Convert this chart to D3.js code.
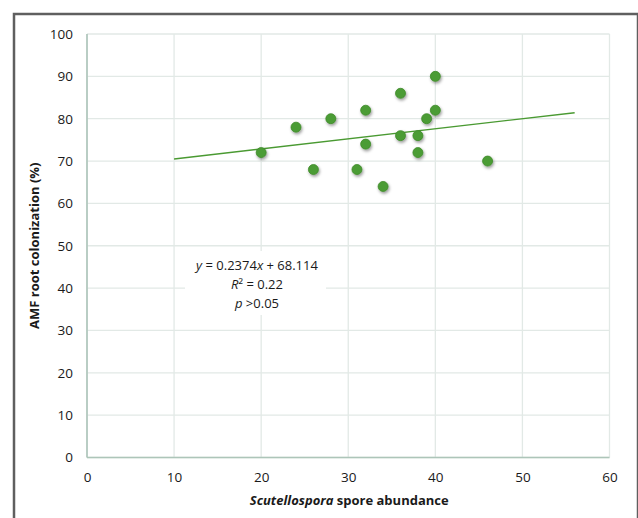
<!DOCTYPE html>
<html>
<head>
<meta charset="utf-8">
<script src="https://cdn.jsdelivr.net/npm/d3@7"></script>
<style>
  body { margin: 0; background: #ffffff; }
  text { font-family: "Open Sans", Lato, sans-serif; fill: #1a1a1a; }
  .grid line { stroke: #e2e9e6; stroke-width: 1.3; }
  .axis path, .axis line { display: none; }
  .axis text { font-size: 13.5px; }
  .axis-title { font-size: 13px; font-weight: bold; }
  .note { font-size: 13px; }
</style>
</head>
<body>
<div id="chart"></div>
<script>
// data
var spores = [20, 24, 26, 28, 31, 32, 32, 34, 36, 36, 38, 38, 39, 40, 40, 46];
var colonization = [72, 78, 68, 80, 68, 82, 74, 64, 86, 76, 76, 72, 80, 90, 82, 70];
var xTicks = [0, 10, 20, 30, 40, 50, 60];
var yTicks = [0, 10, 20, 30, 40, 50, 60, 70, 80, 90, 100];
var trendSlope = 0.2374, trendIntercept = 68.114;
var trendRange = [10, 56];

//globals
var width = 638, height = 518, svg, x, y;

function init() {

    svg = d3.select("#chart").append("svg")
        .attr("width", width)
        .attr("height", height);

    x = d3.scaleLinear().domain([0, 60]).range([87, 609.5]);
    y = d3.scaleLinear().domain([0, 100]).range([457.5, 34]);

    // outer frame
    svg.append("rect")
        .attr("x", 14).attr("y", 14)
        .attr("width", 624).attr("height", 520)
        .attr("fill", "none")
        .attr("stroke", "#5f5f5f")
        .attr("stroke-width", 2.5);

    drawGrid();
    drawAxes();
    drawTrend();
    drawPoints();
    drawNote();
}

function drawGrid() {

    var grid = svg.append("g").attr("class", "grid");

    grid.selectAll(".h").data(yTicks).enter().append("line")
        .attr("x1", x(0)).attr("x2", x(60))
        .attr("y1", function (d) { return y(d); })
        .attr("y2", function (d) { return y(d); });

    grid.selectAll(".v").data(xTicks).enter().append("line")
        .attr("y1", y(0)).attr("y2", y(100))
        .attr("x1", function (d) { return x(d); })
        .attr("x2", function (d) { return x(d); });

    // the two axis lines are darker, greenish grey
    svg.append("line")
        .attr("x1", x(0)).attr("x2", x(0))
        .attr("y1", y(0)).attr("y2", y(100))
        .attr("stroke", "#adc5b9").attr("stroke-width", 1.6);
    svg.append("line")
        .attr("x1", x(0)).attr("x2", x(60))
        .attr("y1", y(0)).attr("y2", y(0))
        .attr("stroke", "#adc5b9").attr("stroke-width", 1.6);
}

function drawAxes() {

    svg.append("g")
        .attr("class", "axis")
        .attr("transform", "translate(0," + (y(0) + 7) + ")")
        .call(d3.axisBottom(x).tickValues(xTicks).tickSize(0).tickPadding(8));

    svg.append("g")
        .attr("class", "axis")
        .attr("transform", "translate(" + (x(0) - 14) + ",0)")
        .call(d3.axisLeft(y).tickValues(yTicks).tickSize(0).tickPadding(0));

    // y title
    svg.append("text")
        .attr("class", "axis-title")
        .attr("transform", "translate(39," + y(50) + ") rotate(-90)")
        .attr("text-anchor", "middle")
        .text("AMF root colonization (%)");

    // x title, genus in italics
    var xt = svg.append("text")
        .attr("class", "axis-title")
        .attr("x", x(30) + 1)
        .attr("y", 505)
        .attr("text-anchor", "middle");
    xt.append("tspan").attr("font-style", "italic").text("Scutellospora");
    xt.append("tspan").text(" spore abundance");
}

function drawTrend() {

    var line = d3.line()
        .x(function (d) { return x(d); })
        .y(function (d) { return y(trendSlope * d + trendIntercept); });

    svg.append("path")
        .datum(trendRange)
        .attr("d", line)
        .attr("fill", "none")
        .attr("stroke", "#4a9a32")
        .attr("stroke-width", 1.3);
}

function drawPoints() {

    // soft drop shadow like the spreadsheet markers
    var f = svg.append("defs").append("filter")
        .attr("id", "shadow")
        .attr("x", "-50%").attr("y", "-50%")
        .attr("width", "200%").attr("height", "200%");
    f.append("feDropShadow")
        .attr("dx", 1).attr("dy", 1.8)
        .attr("stdDeviation", 1.4)
        .attr("flood-color", "#000")
        .attr("flood-opacity", 0.4);

    svg.append("g").selectAll("circle")
        .data(spores)
        .enter().append("circle")
        .attr("cx", function (d) { return x(d); })
        .attr("cy", function (d, i) { return y(colonization[i]); })
        .attr("r", 5)
        .attr("fill", "#4b9c34")
        .attr("stroke", "#3f8a2a")
        .attr("stroke-width", 0.8)
        .attr("filter", "url(#shadow)");
}

function drawNote() {

    var g = svg.append("g").attr("class", "note");

    g.append("rect")
        .attr("x", 185).attr("y", 251)
        .attr("width", 141).attr("height", 64)
        .attr("fill", "#ffffff");

    var t = g.append("text")
        .attr("x", 257)
        .attr("text-anchor", "middle");

    // first line: italic y and x
    var l1 = t.append("tspan").attr("x", 257).attr("y", 270);
    l1.append("tspan").attr("font-style", "italic").text("y");
    l1.append("tspan").text(" = 0.2374");
    l1.append("tspan").attr("font-style", "italic").text("x");
    l1.append("tspan").text(" + 68.114");

    var l2 = t.append("tspan").attr("x", 257).attr("y", 289);
    l2.append("tspan").attr("font-style", "italic").text("R");
    l2.append("tspan").text("² = 0.22");

    var l3 = t.append("tspan").attr("x", 257).attr("y", 308);
    l3.append("tspan").attr("font-style", "italic").text("p");
    l3.append("tspan").text(" >0.05");
}

window.onload = init();
</script>
</body>
</html>
